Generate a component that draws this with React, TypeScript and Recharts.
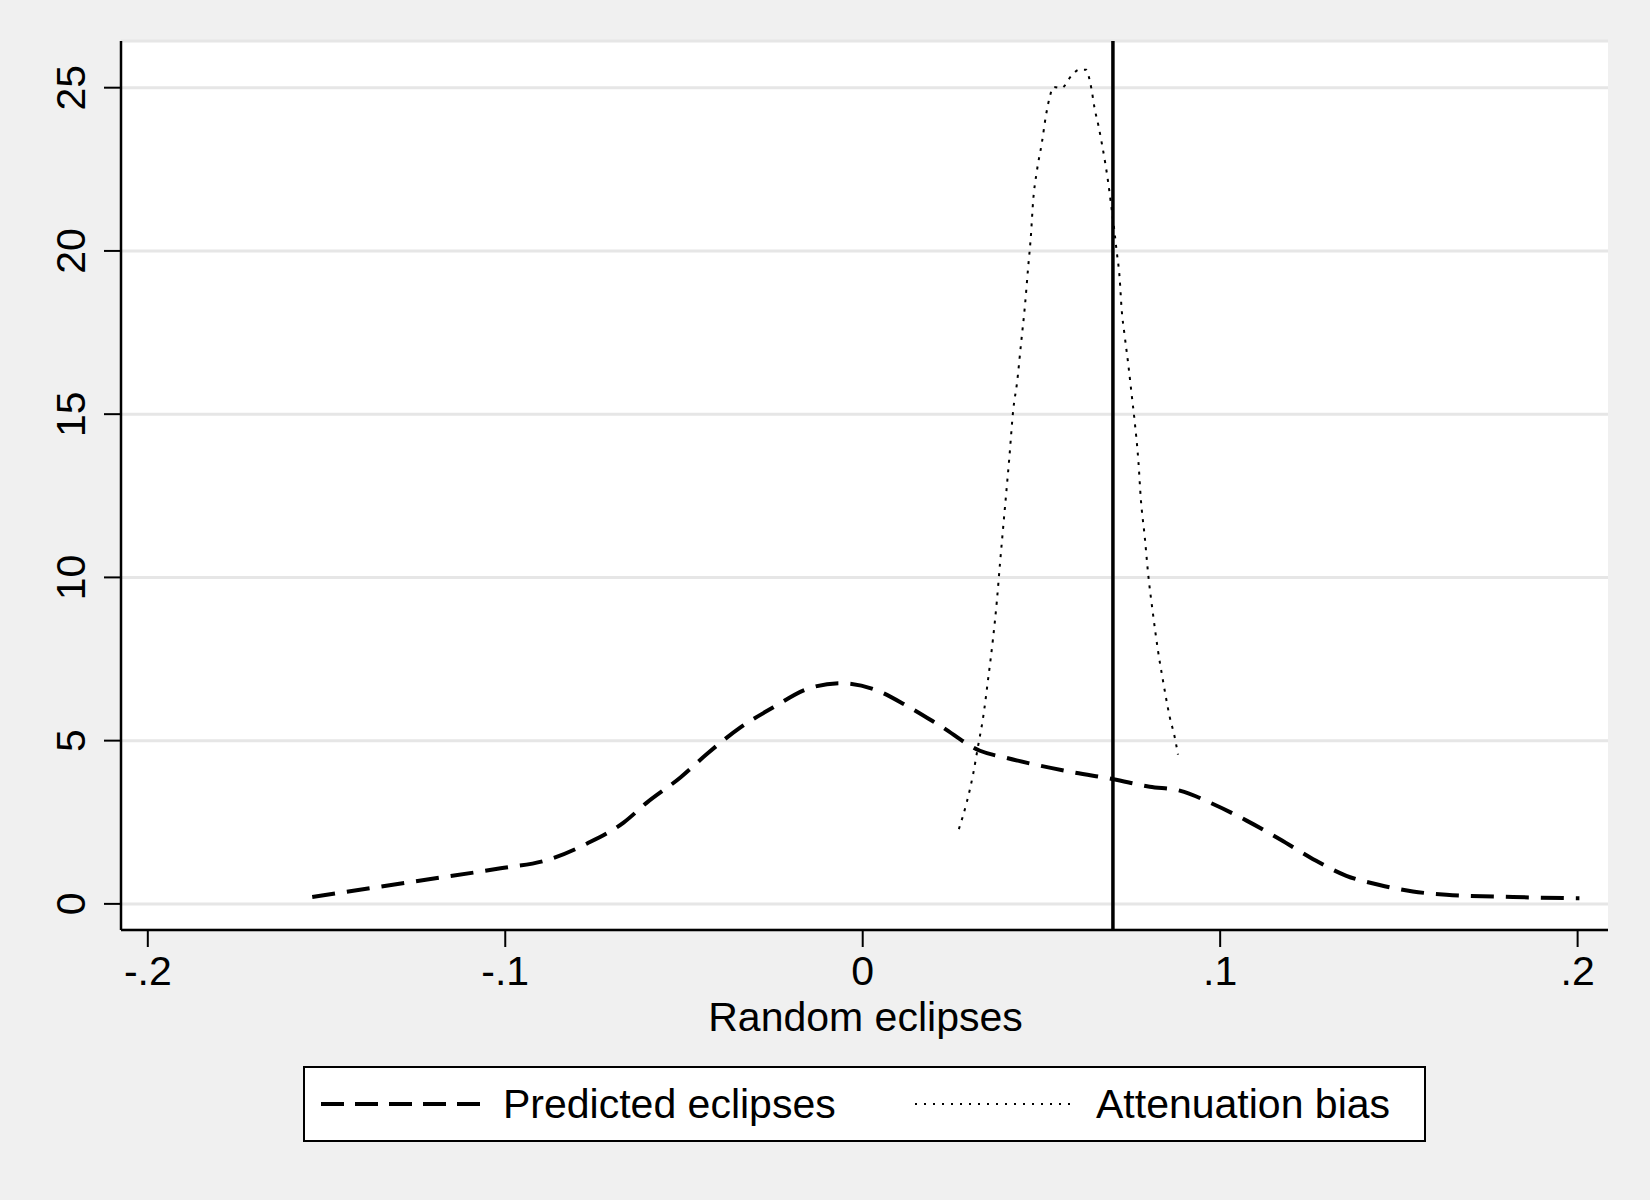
import React from 'react';
import { LineChart, Line, XAxis, YAxis, CartesianGrid, ReferenceLine, Label } from 'recharts';

const FONT = '"Liberation Sans", Arial, Helvetica, sans-serif';

// kernel density of predicted eclipses
const predX = [
  -0.154, -0.1377, -0.1209, -0.1013, -0.0883, -0.0771, -0.0669, -0.0603, -0.051, -0.0436, -0.0343,
  -0.025, -0.0156, -0.0063, 0.003, 0.0123, 0.0216, 0.0328, 0.0403, 0.0589, 0.0701, 0.0803, 0.0887,
  0.098, 0.1074, 0.1167, 0.126, 0.1353, 0.1446, 0.1539, 0.1633, 0.1819, 0.2005,
];
const predY = [
  0.21, 0.48, 0.76, 1.09, 1.34, 1.85, 2.49, 3.11, 3.87, 4.59, 5.4, 6.02, 6.58, 6.76, 6.58, 6.07,
  5.46, 4.69, 4.47, 4.03, 3.82, 3.59, 3.47, 3.06, 2.55, 1.98, 1.37, 0.86, 0.58, 0.38, 0.28, 0.21, 0.17,
];

// attenuation bias density
const biasX = [
  0.0269, 0.0291, 0.0309, 0.0323, 0.0337, 0.0351, 0.0364, 0.0375, 0.0384, 0.0393, 0.0403, 0.041,
  0.0421, 0.0432, 0.0443, 0.0454, 0.0463, 0.047, 0.0477, 0.0487, 0.0501, 0.0513, 0.0524, 0.0533,
  0.0556, 0.0584, 0.0606, 0.0626, 0.0634, 0.064, 0.0648, 0.066, 0.067, 0.0679, 0.0687, 0.0694,
  0.0701, 0.071, 0.0719, 0.0724, 0.0733, 0.0743, 0.0752, 0.0761, 0.0771, 0.0778, 0.0789, 0.0799,
  0.0812, 0.0826, 0.084, 0.0859, 0.0873, 0.0882,
];
const biasY = [
  2.29, 3.11, 3.98, 4.85, 5.72, 6.9, 8.07, 9.24, 10.42, 11.54, 12.77, 13.64, 15.12, 15.99, 17.17,
  18.34, 19.52, 20.39, 21.56, 22.43, 23.3, 24.17, 24.75, 25.02, 24.99, 25.37, 25.55, 25.55, 25.27,
  24.96, 24.41, 23.81, 23.23, 22.66, 22.08, 21.49, 20.9, 20.03, 19.14, 18.27, 17.39, 16.52, 15.64,
  14.76, 13.59, 12.41, 11.24, 10.06, 8.89, 7.76, 6.84, 5.72, 5.1, 4.57,
];

const xTicks = [-0.2, -0.1, 0, 0.1, 0.2];
const yTicks = [0, 5, 10, 15, 20, 25];
const trueValue = 0.07;
const seriesNames = ['Predicted eclipses', 'Attenuation bias'];
const xTitle = 'Random eclipses';

const predicted = predX.map((x, i) => ({ x, y: predY[i] }));
const bias = biasX.map((x, i) => ({ x, y: biasY[i] }));

const fmtX = (v: number) => (v === 0 ? '0' : String(v).replace('0.', '.'));

const XTick = ({ x, y, payload }: any) => (
  <text x={x} y={y + 38} textAnchor="middle" fontSize={41} fontFamily={FONT} fill="#000">
    {fmtX(payload.value)}
  </text>
);

const YTick = ({ x, y, payload }: any) => (
  <text
    x={x - 19}
    y={y}
    transform={`rotate(-90, ${x - 19}, ${y})`}
    textAnchor="middle"
    fontSize={41}
    fontFamily={FONT}
    fill="#000"
  >
    {payload.value}
  </text>
);

const XTitle = ({ viewBox }: any) => (
  <text
    x={viewBox.x + viewBox.width / 2 + 1}
    y={viewBox.y + 101}
    textAnchor="middle"
    fontSize={41}
    fontFamily={FONT}
    fill="#000"
  >
    {xTitle}
  </text>
);

function LegendBox() {
  return (
    <svg width={1123} height={76} style={{ position: 'absolute', left: 303, top: 1066 }}>
      <rect x={1} y={1} width={1121} height={74} fill="#fff" stroke="#000" strokeWidth={2} />
      <line x1={18} x2={178} y1={38} y2={38} stroke="#000" strokeWidth={4} strokeDasharray="23 11" />
      <text x={200} y={52} fontSize={41} fontFamily={FONT} fill="#000">
        {seriesNames[0]}
      </text>
      <line x1={612} x2={768} y1={38} y2={38} stroke="#000" strokeWidth={2} strokeDasharray="2 7" />
      <text x={793} y={52} fontSize={41} fontFamily={FONT} fill="#000">
        {seriesNames[1]}
      </text>
    </svg>
  );
}

export default function App() {
  return (
    <div style={{ position: 'absolute', left: 0, top: 0, width: 1650, height: 1200, background: '#f0f0f0' }}>
      <LineChart width={1650} height={1200} margin={{ top: 41, right: 42, bottom: 160, left: 0 }}>
        <CartesianGrid vertical={false} stroke="#e6e6e6" strokeWidth={3} fill="#fff" fillOpacity={1} />
        <XAxis
          type="number"
          dataKey="x"
          domain={[-0.2075, 0.2085]}
          ticks={xTicks}
          allowDataOverflow
          height={110}
          tickSize={17}
          tickMargin={0}
          tick={<XTick />}
          axisLine={{ stroke: '#000', strokeWidth: 2.5 }}
          tickLine={{ stroke: '#000', strokeWidth: 2 }}
        >
          <Label content={<XTitle />} />
        </XAxis>
        <YAxis
          type="number"
          domain={[-0.8, 26.43]}
          ticks={yTicks}
          allowDataOverflow
          width={121}
          tickSize={17}
          tickMargin={0}
          tick={<YTick />}
          axisLine={{ stroke: '#000', strokeWidth: 2.5 }}
          tickLine={{ stroke: '#000', strokeWidth: 2 }}
        />
        <Line
          data={predicted}
          dataKey="y"
          name={seriesNames[0]}
          type="monotone"
          stroke="#000"
          strokeWidth={4}
          strokeDasharray="23 12"
          dot={false}
          activeDot={false}
          isAnimationActive={false}
        />
        <Line
          data={bias}
          dataKey="y"
          name={seriesNames[1]}
          type="monotone"
          stroke="#000"
          strokeWidth={2}
          strokeDasharray="3 6.5"
          dot={false}
          activeDot={false}
          isAnimationActive={false}
        />
        <ReferenceLine x={trueValue} stroke="#000" strokeWidth={3.5} />
      </LineChart>
      <LegendBox />
    </div>
  );
}
